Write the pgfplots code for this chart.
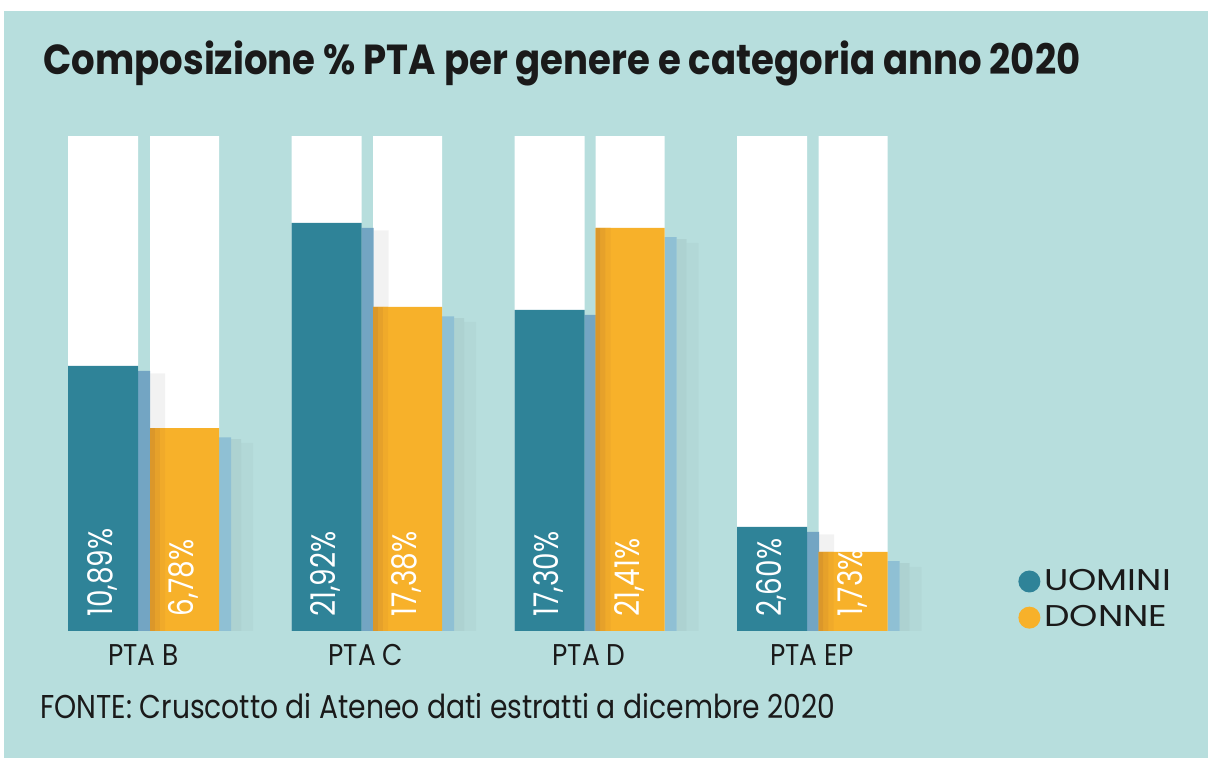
\documentclass[border=0pt]{standalone}
\usepackage{fontspec}
\usepackage{graphicx}
\usepackage{pgfplots}
\usepackage{pgfplotstable}
\pgfplotsset{compat=1.18}
\setmainfont{Poppins}
\newfontfamily\tickfont{Poppins}[FakeStretch=0.88]
\newfontfamily\legfont{Poppins}[FakeStretch=1.2]
\newfontfamily\valfont{Poppins}[FakeStretch=0.82]
\definecolor{bgteal}{HTML}{B7DEDD}
\definecolor{uteal}{HTML}{2F8398}
\definecolor{dorange}{HTML}{F7B12A}
\definecolor{dedge}{HTML}{DB972A}
\definecolor{ustrip}{HTML}{73A5C3}
\definecolor{dstrip}{HTML}{8FC0D4}
\definecolor{txt}{HTML}{1A1A1A}

% x = bar centre (px), h = drawn bar height, v = printed value (%)
\pgfplotstableread{
x      h      v
103    14.25  10.89
326.5  21.94  21.92
549.5  17.26  17.30
772    5.60   2.60
}\uomini
\pgfplotstableread{
x      h      v
184.5  10.91  6.78
407.5  17.42  17.38
630    21.67  21.41
853    4.25   1.73
}\donne

\begin{document}
\begin{tikzpicture}
\begin{axis}[
  set layers,
  width=604pt, height=379pt, scale only axis,
  xmin=0, xmax=1208, ymin=-6.828, ymax=33.925,
  clip=false,
  axis line style={draw=none},
  tick style={draw=none},
  ytick=\empty,
  xtick={143.5,366,589,812},
  xticklabels={PTA B,PTA C,PTA D,PTA EP},
  xticklabel style={anchor=base, yshift=46pt, text=txt,
    font=\tickfont\fontsize{15}{15}\selectfont},
  legend style={at={(rel axis cs:0.8427,0.2546)}, anchor=north west,
    draw=none, fill=none, inner sep=0pt, row sep=2pt,
    font=\legfont\fontsize{15}{15}\selectfont, text=txt},
  legend cell align=left,
]
% background
\begin{pgfonlayer}{axis background}
\fill[white] (rel axis cs:0,0) rectangle (rel axis cs:1,1);
\fill[bgteal] (rel axis cs:0.00331,0) rectangle (rel axis cs:1,0.98549);
\end{pgfonlayer}

% white full-height bars
\addplot[ybar, bar shift=0pt, bar width=70, fill=white, draw=none, forget plot]
  table[x=x, y expr=26.61] {\uomini};
\addplot[ybar, bar shift=0pt, bar width=69, fill=white, draw=none, forget plot]
  table[x=x, y expr=26.61] {\donne};

% soft shadows
\addplot[ybar, bar shift=0pt, bar width=15, fill=black, fill opacity=0.05, draw=none, forget plot]
  table[x expr=\thisrow{x}+54.5, y expr=\thisrow{h}-0.4] {\uomini};
\addplot[ybar, bar shift=0pt, bar width=10, fill=black, fill opacity=0.05, draw=none, forget plot]
  table[x expr=\thisrow{x}+51.5, y expr=\thisrow{h}-0.6] {\donne};
\addplot[ybar, bar shift=0pt, bar width=12, fill=black, fill opacity=0.025, draw=none, forget plot]
  table[x expr=\thisrow{x}+62.5, y expr=\thisrow{h}-0.8] {\donne};

% light-blue side strips
\addplot[ybar, bar shift=0pt, bar width=12, fill=ustrip, draw=none, forget plot]
  table[x expr=\thisrow{x}+41, y expr=\thisrow{h}-0.27] {\uomini};
\addplot[ybar, bar shift=0pt, bar width=12, fill=dstrip, draw=none, forget plot]
  table[x expr=\thisrow{x}+40.5, y expr=\thisrow{h}-0.5] {\donne};

% coloured bars
\addplot[ybar, bar shift=0pt, bar width=70, fill=uteal, draw=none,
  legend image code/.code={\fill[uteal] (0pt,0pt) circle (5.5pt);}]
  table[x=x, y=h] {\uomini};
\addlegendentry{UOMINI}
\addplot[ybar, bar shift=0pt, bar width=69, fill=dorange, draw=none,
  legend image code/.code={\fill[dorange] (0pt,0pt) circle (5.5pt);}]
  table[x=x, y=h] {\donne};
\addlegendentry{DONNE}

% darker left edge of the orange bars
\addplot[ybar, bar shift=0pt, bar width=5, fill=dedge, draw=none, forget plot]
  table[x expr=\thisrow{x}-32, y=h] {\donne};
\addplot[ybar, bar shift=0pt, bar width=5, fill=dedge!60!dorange, draw=none, forget plot]
  table[x expr=\thisrow{x}-27, y=h] {\donne};
\addplot[ybar, bar shift=0pt, bar width=5, fill=dedge!25!dorange, draw=none, forget plot]
  table[x expr=\thisrow{x}-22, y=h] {\donne};

% value labels
\addplot[draw=none, mark=none, forget plot, point meta=explicit,
  nodes near coords={\pgfmathprintnumber[fixed,fixed zerofill,precision=2,use comma,assume math mode=true]{\pgfplotspointmeta}\%},
  every node near coord/.style={rotate=90, anchor=base west, inner sep=0pt, text=white,
    font=\valfont\fontsize{17}{17}\selectfont}]
  table[x expr=\thisrow{x}+9, y expr=0.753, meta=v] {\uomini};
\addplot[draw=none, mark=none, forget plot, point meta=explicit,
  nodes near coords={\pgfmathprintnumber[fixed,fixed zerofill,precision=2,use comma,assume math mode=true]{\pgfplotspointmeta}\%},
  every node near coord/.style={rotate=90, anchor=base west, inner sep=0pt, text=white,
    font=\valfont\fontsize{17}{17}\selectfont}]
  table[x expr=\thisrow{x}+9, y expr=0.753, meta=v] {\donne};

% title and source
\node[anchor=base west, inner sep=0pt, text=txt] at (rel axis cs:0.0356,0.90106)
  {\resizebox{518.5pt}{\height}{\fontsize{21}{21}\selectfont\bfseries Composizione \% PTA per genere e categoria anno 2020}};
\node[anchor=base west, inner sep=0pt, text=txt] at (rel axis cs:0.0331,0.05277)
  {\resizebox{397.5pt}{\height}{\fontsize{16.5}{16.5}\selectfont FONTE: Cruscotto di Ateneo dati estratti a dicembre 2020}};
\end{axis}
\end{tikzpicture}
\end{document}
